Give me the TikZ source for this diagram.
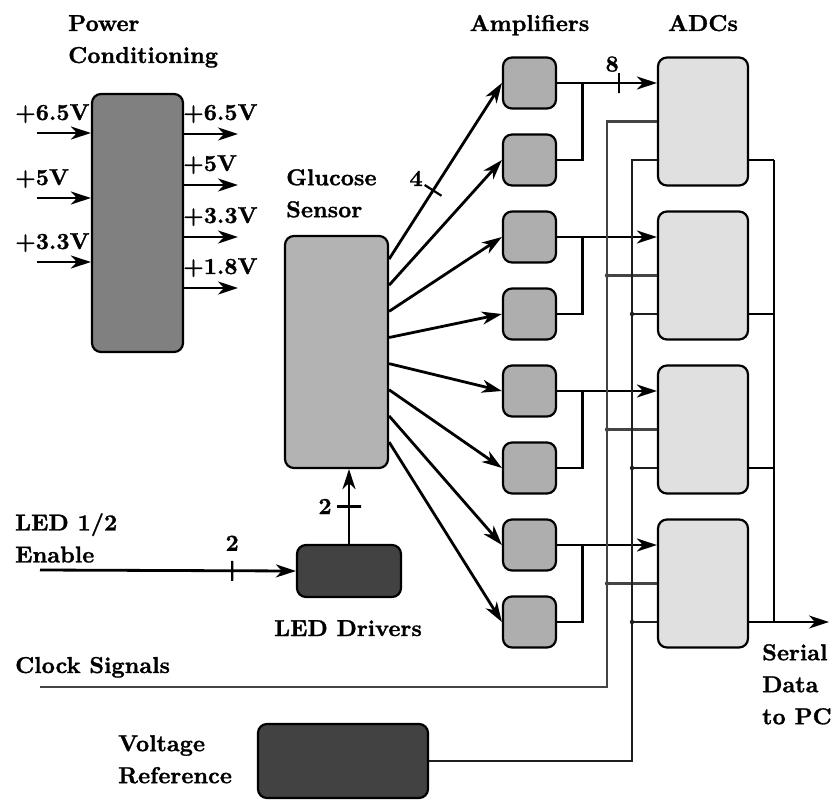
\documentclass[tikz,border=0pt]{standalone}
\usepackage{fontspec}
\newfontfamily\lblfont{lmroman10-bold}[Extension=.otf, FakeBold=1.2]
\usepackage{tikz}
\usetikzlibrary{arrows.meta,calc}
\definecolor{pwrgray}{HTML}{808080}
\definecolor{gsgray}{HTML}{B3B3B3}
\definecolor{ampgray}{HTML}{AEAEAE}
\definecolor{adcgray}{HTML}{E0E0E0}
\definecolor{drvgray}{HTML}{424242}
\definecolor{clkgray}{HTML}{444444}
\definecolor{vrgray}{HTML}{1E1E1E}
\tikzset{
  blk/.style={draw, line width=2.2, rounded corners=9, inner sep=0},
  sig/.style={line width=2.8, -{Stealth[length=20pt,width=13pt,inset=6pt]}},
  wire/.style={line width=2.8},
  clkline/.style={line width=2.3, draw=clkgray},
  vrline/.style={line width=2.8, draw=vrgray},
  lbl/.style={font=\fontsize{23}{32}\lblfont, inner sep=0, align=left},
  tickmark/.style={draw, line width=2.2, minimum width=0, minimum height=20, inner sep=0, sloped},
}
\begin{document}
\begin{tikzpicture}[x=1pt, y=-1pt]
    \useasboundingbox (0,0) rectangle (834,800);
    % power conditioning
    \node[blk, fill=pwrgray, minimum width=91, minimum height=258] (pc) at (137.5,223) {};
    \node[lbl, anchor=north west] (pclbl) at (68,15) {Power\\Conditioning};
    \foreach \y/\v [count=\i] in {133/+6.5V,198/+5V,262/+3.3V} {
      \coordinate (pin\i) at (37,\y);
      \draw[sig] (pin\i) -- (pin\i -| pc.west);
      \node[lbl, anchor=base west] (pinl\i) at (15,\y-13) {\v};
    }
    \foreach \y/\v [count=\i] in {134/+6.5V,185/+5V,237/+3.3V,288/+1.8V} {
      \coordinate (pout\i) at (238,\y);
      \draw[sig] (pc.east |- pout\i) -- (pout\i);
      \node[lbl, anchor=base west] (poutl\i) at (183,\y-14) {\v};
    }
    % glucose sensor and amplifiers
    \node[blk, fill=gsgray, minimum width=103, minimum height=232] (gs) at (336.5,352) {};
    \node[lbl, anchor=north west] (gslbl) at (286,169) {Glucose\\Sensor};
    \foreach \i in {1,...,8}
      \node[blk, fill=ampgray, minimum width=53, minimum height=51] (amp\i) at (529.5,{6+77*\i}) {};
    \node[lbl, anchor=base] (amplbl) at (529.5,31) {Amplifiers};
    \foreach \i in {2,...,8} {
      \coordinate (gp\i) at ($(gs.north east)+(0,{-2+26.15*\i})$);
      \draw[sig] (gp\i) -- (amp\i.west);
    }
    \coordinate (gp1) at ($(gs.north east)+(0,24.15)$);
    \draw[sig] (gp1) -- node[tickmark, pos=0.39] (t4) {} (amp1.west);
    \node[lbl] (t4lbl) at ($(t4)+(-17,-12)$) {4};
    % ADCs
    \foreach \k in {1,...,4}
      \node[blk, fill=adcgray, minimum width=90, minimum height=128] (adc\k) at (703,{121.5+154*(\k-1)}) {};
    \node[lbl, anchor=base] (adclbl) at (703,31) {ADCs};
    \foreach \k in {1,...,4} {
      \pgfmathtruncatemacro\a{2*\k-1}
      \pgfmathtruncatemacro\b{2*\k}
      \draw[wire] (amp\b.east) -| ($(amp\a.east)+(25,0)$);
    }
    \draw[sig] (amp1.east) -- node[tickmark, pos=0.62] (t8) {} (amp1.east -| adc1.west);
    \node[lbl, anchor=south east] (t8lbl) at ($(t8)+(0,-11)$) {8};
    \foreach \a/\k in {3/2,5/3,7/4}
      \draw[sig] (amp\a.east) -- (amp\a.east -| adc\k.west);
    % clock signals
    \coordinate (cbus) at (607,0);
    \coordinate (clk) at (40,687);
    \node[lbl, anchor=base west] (clklbl) at (15,673) {Clock Signals};
    \draw[clkline] (clk) -| (cbus |- adc1.west) -- (adc1.west);
    \foreach \k in {2,3,4} {
      \draw[clkline] (cbus |- adc\k.west) -- (adc\k.west);
      \fill[clkgray] (cbus |- adc\k.west) circle[radius=2.2];
    }
    % voltage reference
    \coordinate (vbus) at (632,0);
    \node[blk, fill=drvgray, minimum width=170, minimum height=74] (vref) at (343,761) {};
    \node[lbl, anchor=north west] (vreflbl) at (118,735) {Voltage\\Reference};
    \draw[vrline] (vref.east) -| (vbus |- amp2.east) -- (amp2.east -| adc1.west);
    \foreach \b/\k in {4/2,6/3,8/4} {
      \draw[vrline] (vbus |- amp\b.east) -- (amp\b.east -| adc\k.west);
      \fill[vrgray] (vbus |- amp\b.east) circle[radius=2.2];
    }
    % serial output
    \coordinate (obus) at (774,0);
    \foreach \b/\k in {2/1,4/2,6/3}
      \draw[wire] (amp\b.east -| adc\k.east) -- (amp\b.east -| obus);
    \draw[wire] (amp2.east -| obus) -- (amp8.east -| obus);
    \coordinate (ser) at (829,622);
    \draw[sig, line width=1.8] (amp8.east -| adc4.east) -- (ser);
    \node[lbl, anchor=north west] (serlbl) at (762,644) {Serial\\Data\\to PC};
    % LED drivers
    \node[blk, fill=drvgray, minimum width=104, minimum height=52] (drv) at (349,571) {};
    \node[lbl, anchor=base] (drvlbl) at (348,636) {LED Drivers};
    \draw[sig] (drv.north) -- node[tickmark, pos=0.5, minimum height=24] (t2b) {} (drv.north |- gs.south);
    \node[lbl] (t2blbl) at ($(t2b)+(-24,0)$) {2};
    \coordinate (en) at (40,570);
    \node[lbl, anchor=north west] (enlbl) at (15,513) {LED 1/2\\Enable};
    \draw[sig] (en) -- node[tickmark, pos=0.751] (t2a) {} (drv.west);
    \node[lbl, anchor=base] (t2albl) at ($(t2a)+(0,-20)$) {2};
\end{tikzpicture}
\end{document}
